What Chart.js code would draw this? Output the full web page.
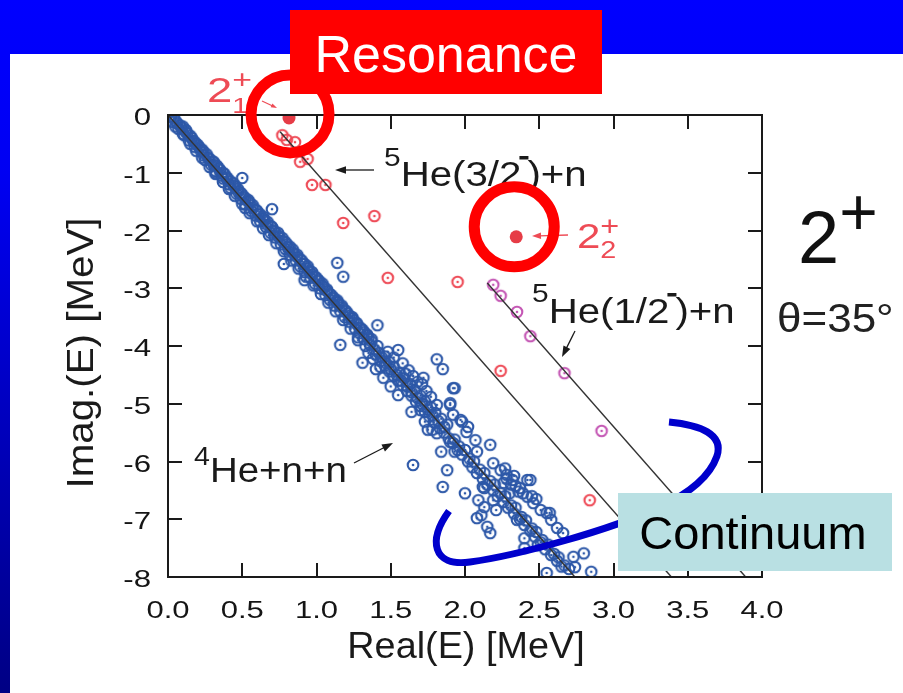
<!DOCTYPE html>
<html>
<head>
<meta charset="utf-8">
<script src="https://cdn.jsdelivr.net/npm/chart.js"></script>
<style>
  html, body { margin: 0; padding: 0; }
  body { width: 903px; height: 693px; overflow: hidden; position: relative;
         background: linear-gradient(to bottom, #0000ff 0%, #0000f2 25%, #000084 100%); }
  #paper { position: absolute; left: 10px; top: 54px; right: 0; bottom: 0; background: #fff; }
  #chart { position: absolute; left: 0; top: 0; }
</style>
</head>
<body>
<div id="paper"></div>
<canvas id="chart" width="903" height="693"></canvas>
<script>
// axis ranges and ticks
const reRange = [0, 4];
const imRange = [-8, 0];
const reStep = 0.5;
const imStep = 1;

// complex-scaled eigenvalues [Re, Im] in MeV
const blueE = [
  [0.02,-0.03],[0.03,-0.12],[0.06,-0.14],[0.07,-0.24],[0.09,-0.22],[0.11,-0.35],[0.12,-0.30],[0.14,-0.44],
  [0.17,-0.45],[0.18,-0.55],[0.19,-0.50],[0.22,-0.62],[0.24,-0.70],[0.25,-0.78],[0.27,-0.74],[0.29,-0.86],
  [0.31,-0.87],[0.32,-0.97],[0.34,-0.92],[0.36,-1.05],[0.37,-1.10],[0.39,-1.08],[0.41,-1.20],[0.42,-1.26],
  [0.44,-1.22],[0.46,-1.36],[0.47,-1.32],[0.49,-1.45],[0.51,-1.42],[0.52,-1.55],[0.54,-1.50],[0.56,-1.66],
  [0.57,-1.60],[0.59,-1.74],[0.61,-1.72],[0.62,-1.84],[0.64,-1.80],[0.66,-1.94],[0.67,-1.90],[0.69,-2.04],
  [0.71,-2.00],[0.72,-2.12],[0.74,-2.10],[0.76,-2.24],[0.77,-2.18],[0.79,-2.32],[0.81,-2.30],[0.82,-2.42],
  [0.84,-2.38],[0.86,-2.52],[0.87,-2.46],[0.89,-2.62],[0.91,-2.58],[0.92,-2.72],[0.94,-2.66],[0.96,-2.82],
  [0.97,-2.76],[0.99,-2.92],[1.01,-2.86],[1.02,-3.00],[1.04,-2.96],[1.06,-3.12],[1.07,-3.05],[1.09,-3.20],
  [1.11,-3.16],[1.12,-3.30],[1.14,-3.24],[1.16,-3.40],[1.17,-3.33],[1.19,-3.50],[1.21,-3.44],[1.22,-3.58],
  [1.24,-3.52],[1.26,-3.70],[1.27,-3.62],[1.29,-3.78],[1.31,-3.72],[1.32,-3.88],[1.34,-3.82],[1.36,-3.98],
  [1.37,-3.92],[1.39,-4.06],[1.41,-4.00],
  [0.04,-0.06],[0.05,-0.10],[0.08,-0.18],[0.10,-0.20],[0.12,-0.26],[0.13,-0.32],[0.15,-0.36],[0.16,-0.40],
  [0.18,-0.47],[0.20,-0.52],[0.21,-0.56],[0.23,-0.60],[0.24,-0.64],[0.26,-0.68],[0.28,-0.76],[0.30,-0.80],
  [0.31,-0.82],[0.33,-0.88],[0.35,-0.95],[0.37,-1.00],[0.38,-1.02],[0.40,-1.09],[0.42,-1.15],[0.44,-1.18],
  [0.45,-1.24],[0.47,-1.28],[0.49,-1.35],[0.50,-1.38],[0.52,-1.44],[0.54,-1.47],[0.55,-1.52],[0.57,-1.56],
  [0.59,-1.64],[0.60,-1.66],[0.62,-1.72],[0.64,-1.76],[0.65,-1.82],[0.67,-1.85],[0.69,-1.92],[0.70,-1.94],
  [0.72,-2.02],[0.74,-2.04],[0.75,-2.10],[0.77,-2.13],[0.79,-2.20],[0.80,-2.24],[0.82,-2.28],[0.84,-2.33],
  [0.85,-2.40],[0.87,-2.42],[0.89,-2.50],[0.90,-2.52],[0.92,-2.58],[0.94,-2.62],[0.95,-2.70],[0.97,-2.72],
  [0.99,-2.80],[1.00,-2.82],[1.02,-2.88],[1.04,-2.92],[1.05,-2.99],[1.07,-3.02],[1.09,-3.10],[1.10,-3.12],
  [1.12,-3.18],[1.14,-3.21],[1.15,-3.28],[1.17,-3.30],[1.19,-3.38],[1.20,-3.40],[1.22,-3.48],[1.24,-3.50],
  [1.25,-3.56],[1.27,-3.60],[1.29,-3.68],[1.30,-3.70],[1.32,-3.76],[1.34,-3.80],[1.35,-3.86],[1.37,-3.88],
  [0.05,-0.20],[0.10,-0.33],[0.15,-0.50],[0.19,-0.62],[0.23,-0.74],[0.28,-0.90],[0.32,-1.02],[0.37,-1.16],
  [0.41,-1.28],[0.45,-1.40],[0.50,-1.54],[0.55,-1.70],[0.60,-1.84],[0.64,-1.96],[0.68,-2.08],[0.73,-2.22],
  [0.78,-2.36],[0.83,-2.52],[0.88,-2.66],[0.93,-2.80],[0.98,-2.95],[1.03,-3.10],[1.08,-3.25],[1.13,-3.40],
  [1.18,-3.55],[1.23,-3.70],[1.28,-3.85],[1.33,-4.00],
  [0.32,-1.00],[0.50,-1.09],[0.52,-1.61],[0.70,-1.63],[0.78,-2.58],[1.14,-2.56],[1.18,-2.80],[0.92,-2.86],
  [1.16,-3.98],[1.28,-3.90],[1.41,-3.64],[1.31,-4.29],[1.43,-4.36],[1.55,-4.07],[1.81,-4.23],[1.85,-4.40],
  [1.92,-4.73],[1.90,-4.99],[1.93,-4.73],
  [1.42,-4.12],[1.44,-4.20],[1.46,-4.18],[1.47,-4.30],[1.49,-4.28],[1.50,-4.40],[1.52,-4.36],[1.54,-4.50],
  [1.56,-4.46],[1.57,-4.60],[1.59,-4.56],[1.61,-4.70],[1.63,-4.66],[1.64,-4.80],[1.66,-4.76],[1.68,-4.90],
  [1.70,-4.86],[1.71,-5.00],[1.73,-4.96],[1.75,-5.10],[1.77,-5.06],[1.78,-5.20],[1.80,-5.16],[1.82,-5.30],
  [1.84,-5.26],[1.86,-5.40],[1.88,-5.36],
  [1.40,-4.15],[1.43,-4.26],[1.46,-4.34],[1.49,-4.44],[1.52,-4.52],[1.55,-4.60],[1.58,-4.68],[1.61,-4.78],
  [1.64,-4.86],[1.67,-4.96],[1.70,-5.04],[1.73,-5.14],[1.76,-5.22],[1.79,-5.32],[1.83,-5.42],[1.86,-5.50],
  [1.89,-5.60],[1.92,-5.68],[1.95,-5.80],[1.98,-5.88],[2.02,-6.00],[2.05,-6.10],[2.08,-6.20],[2.12,-6.30],
  [2.15,-6.40],[2.19,-6.50],[2.22,-6.60],[2.26,-6.70],[2.29,-6.80],[2.33,-6.90],[2.37,-7.00],[2.40,-7.10],
  [2.44,-7.20],[2.47,-7.30],[2.51,-7.40],[2.54,-7.52],[2.58,-7.62],[2.62,-7.72],[2.65,-7.82],
  [1.58,-4.30],[1.62,-4.42],[1.65,-4.52],[1.60,-4.48],[1.68,-4.62],[1.71,-4.66],[1.74,-4.78],[1.77,-4.88],
  [1.72,-4.55],[1.52,-4.20],[1.48,-4.10],[1.38,-4.22],[1.40,-4.40],[1.45,-4.55],[1.35,-4.12],[1.50,-4.70],
  [1.55,-4.85],
  [1.65,-6.06],[1.88,-6.15],[1.85,-6.44],[2.00,-6.55],[2.09,-6.67],[2.13,-6.46],[2.19,-6.67],[2.11,-6.93],
  [2.15,-7.13],[2.17,-7.24],[2.21,-6.84],[2.35,-7.01],[2.40,-7.33],[2.40,-7.50],[2.49,-7.45],[2.55,-6.89],
  [2.58,-7.01],[2.62,-7.15],[2.66,-7.24],[2.73,-7.65],[2.80,-7.59],[2.74,-7.83],[2.85,-7.91],[2.55,-7.93],
  [2.42,-6.32],[2.17,-5.71],[2.08,-5.83],[1.93,-5.83],[1.84,-5.83],[1.90,-5.66],[1.75,-5.45],[1.81,-5.51],
  [1.73,-5.31],[1.64,-5.14],[1.70,-5.11],[1.81,-5.02],[1.90,-5.02],[1.92,-5.19],[1.98,-5.31],[2.01,-5.49],
  [2.07,-5.63],[2.19,-6.03],[2.24,-6.15],[2.28,-6.23],[2.32,-6.32],[2.37,-6.46],[2.42,-6.61],[2.46,-6.72],
  [2.51,-6.84],[2.26,-6.37],[2.30,-6.55],[2.08,-6.98],[2.13,-6.79],[1.78,-5.45],[1.97,-5.28],[2.02,-5.40],
  [2.12,-6.44],[2.44,-6.32],[2.57,-6.89],
  [2.28,-6.30],[2.31,-6.40],[2.34,-6.42],[2.36,-6.52],[2.39,-6.55],[2.33,-6.25],[2.27,-6.12],[2.45,-6.60],
  [2.48,-6.65],
  [1.93,-5.62],[1.96,-5.74],[2.00,-5.80],[2.03,-5.95],[2.06,-6.00],[2.10,-6.14],[2.13,-6.20],[2.17,-6.34],
  [2.20,-6.40],[2.24,-6.55],[2.27,-6.60],[2.31,-6.76],[2.34,-6.80],[2.38,-6.96],[2.41,-7.02],[2.45,-7.16],
  [2.48,-7.22],[2.52,-7.36],[2.56,-7.44],[2.60,-7.60],[2.63,-7.66],[2.67,-7.80],[2.70,-7.86]
];
const redE = [
  [0.77,-0.35],[0.80,-0.43],[0.855,-0.47],[0.89,-0.81],[0.94,-0.76],[0.97,-1.21],[1.06,-1.21],
  [1.18,-1.87],[1.39,-1.75],[1.48,-2.82],[1.95,-2.89],[2.24,-4.43],[2.84,-6.67]
];
const magentaE = [[2.19,-2.94],[2.24,-3.13],[2.35,-3.41],[2.44,-3.83],[2.67,-4.47],[2.92,-5.47]];
const resonanceE = [[0.815,-0.05],[2.345,-2.11]];

// rotated thresholds: 4He+n+n, 5He(3/2-)+n, 5He(1/2-)+n
const cutStartRe = [0, 0.755, 2.15];
const cutStartIm = [0, -0.29, -2.91];
const cutEndRe = [2.74, 3.39, 3.89];

const FONT = '"Liberation Sans", Arial, Helvetica, sans-serif';
const RED_TXT = '#ee4b55';

function ring(color) {
  const c = document.createElement('canvas');
  c.width = 16; c.height = 16;
  const g = c.getContext('2d');
  g.strokeStyle = color; g.lineWidth = 2.1;
  g.beginPath(); g.arc(8, 8, 5.3, 0, Math.PI * 2); g.stroke();
  g.fillStyle = color;
  g.beginPath(); g.arc(8, 8, 1.3, 0, Math.PI * 2); g.fill();
  return c;
}

function toPts(arr) { return arr.map(p => ({ x: p[0], y: p[1] })); }

function text(ctx, s, x, y, size, color, align, sx, rot) {
  ctx.save();
  ctx.translate(x, y);
  if (rot) ctx.rotate(rot);
  ctx.scale(sx || 1, 1);
  ctx.font = size + 'px ' + FONT;
  ctx.fillStyle = color;
  ctx.textAlign = align || 'left';
  ctx.textBaseline = 'alphabetic';
  ctx.fillText(s, 0, 0);
  ctx.restore();
}

// draws pieces one after another (for super/subscripts)
function run(ctx, x, y, parts, color, sx) {
  let cx = x;
  ctx.save();
  ctx.fillStyle = color;
  for (const p of parts) {
    if (p.bar) {
      ctx.fillRect(cx - 2, y - 30, 9, 3.5);
      cx += 6;
      continue;
    }
    ctx.font = p.size + 'px ' + FONT;
    const w = ctx.measureText(p.t).width * sx;
    text(ctx, p.t, cx, y + (p.dy || 0), p.size, color, 'left', sx);
    cx += p.adv !== undefined ? p.adv : w;
  }
  ctx.restore();
}

function arrow(ctx, x1, y1, x2, y2, color, head) {
  const ang = Math.atan2(y2 - y1, x2 - x1);
  ctx.save();
  ctx.strokeStyle = color; ctx.fillStyle = color; ctx.lineWidth = 1.3;
  ctx.beginPath(); ctx.moveTo(x1, y1);
  ctx.lineTo(x2 - Math.cos(ang) * head * 0.8, y2 - Math.sin(ang) * head * 0.8); ctx.stroke();
  ctx.translate(x2, y2); ctx.rotate(ang);
  ctx.beginPath(); ctx.moveTo(0, 0); ctx.lineTo(-head, -head * 0.35); ctx.lineTo(-head, head * 0.35);
  ctx.closePath(); ctx.fill();
  ctx.restore();
}

const overlay = {
  id: 'overlay',
  afterDraw(chart) {
    const ctx = chart.ctx, a = chart.chartArea;
    const xs = chart.scales.x, ys = chart.scales.y;

    // frame with inward ticks on all sides
    ctx.save();
    ctx.strokeStyle = '#1a1a1a';
    ctx.lineWidth = 2;
    ctx.strokeRect(a.left, a.top, a.right - a.left, a.bottom - a.top);
    ctx.beginPath();
    xs.ticks.forEach(t => {
      const p = Math.round(xs.getPixelForValue(t.value));
      ctx.moveTo(p, a.bottom); ctx.lineTo(p, a.bottom - 14);
      ctx.moveTo(p, a.top); ctx.lineTo(p, a.top + 14);
    });
    ys.ticks.forEach(t => {
      const p = Math.round(ys.getPixelForValue(t.value));
      ctx.moveTo(a.left, p); ctx.lineTo(a.left + 14, p);
      ctx.moveTo(a.right, p); ctx.lineTo(a.right - 14, p);
    });
    ctx.stroke();
    ctx.restore();

    // tick labels
    xs.ticks.forEach(t => {
      text(ctx, t.value.toFixed(1), xs.getPixelForValue(t.value), a.bottom + 41, 23, '#151515', 'center', 1.35);
    });
    ys.ticks.forEach(t => {
      text(ctx, String(t.value), a.left - 17, ys.getPixelForValue(t.value) + 10, 24, '#151515', 'right', 1.3);
    });

    // axis titles
    text(ctx, 'Real(E) [MeV]', (a.left + a.right) / 2 + 1, 658, 36, '#1a1a1a', 'center', 1.05);
    text(ctx, 'Imag.(E) [MeV]', 93, 353, 36, '#1a1a1a', 'center', 1.12, -Math.PI / 2);

    // channel labels
    run(ctx, 384, 186, [{ t: '5', size: 26, dy: -20 }, { t: 'He(3/2', size: 35 }, { bar: true }, { t: ')+n', size: 35 }], '#1a1a1a', 1.15);
    arrow(ctx, 374, 170, 335, 170, '#1a1a1a', 11);
    run(ctx, 532, 323, [{ t: '5', size: 26, dy: -21 }, { t: 'He(1/2', size: 35 }, { bar: true }, { t: ')+n', size: 35 }], '#1a1a1a', 1.15);
    arrow(ctx, 575, 331, 562, 357, '#1a1a1a', 11);
    run(ctx, 194, 482, [{ t: '4', size: 26, dy: -17 }, { t: 'He+n+n', size: 35 }], '#1a1a1a', 1.1);
    arrow(ctx, 354, 463, 393, 443, '#1a1a1a', 11);

    // resonance labels
    run(ctx, 207, 102, [{ t: '2', size: 35 }, { t: '+', size: 26, dy: -14, adv: 0 }, { t: '1', size: 22, dy: 11 }], RED_TXT, 1.3);
    arrow(ctx, 262, 101, 277, 108, RED_TXT, 6);
    run(ctx, 577, 248, [{ t: '2', size: 35 }, { t: '+', size: 27, dy: -13, adv: 0 }, { t: '2', size: 24, dy: 10 }], RED_TXT, 1.2);
    arrow(ctx, 568, 235, 532, 236, RED_TXT, 9);

    // J^pi and angle
    run(ctx, 798, 263, [{ t: '2', size: 74 }, { t: '+', size: 66, dy: -28 }], '#111', 1);
    text(ctx, 'θ=35°', 777, 332, 40, '#222', 'left', 1.1);

    // hand-drawn continuum loop
    ctx.save();
    ctx.strokeStyle = '#0000cc';
    ctx.lineWidth = 7;
    ctx.beginPath();
    ctx.moveTo(669, 422);
    ctx.bezierCurveTo(700, 425, 724, 434, 717, 456);
    ctx.bezierCurveTo(710, 476, 692, 492, 660, 507);
    ctx.bezierCurveTo(610, 530, 520, 555, 470, 562);
    ctx.bezierCurveTo(432, 567, 428, 540, 449, 511);
    ctx.stroke();
    ctx.restore();

    // circles round the resonance poles
    ctx.save();
    ctx.strokeStyle = '#ff0000';
    ctx.lineWidth = 11;
    const r1 = resonanceE[0], r2 = resonanceE[1];
    ctx.beginPath();
    ctx.arc(xs.getPixelForValue(r1[0]) + 1, ys.getPixelForValue(r1[1]) - 4, 39, 0, Math.PI * 2);
    ctx.stroke();
    ctx.beginPath();
    ctx.arc(xs.getPixelForValue(r2[0]) - 2, ys.getPixelForValue(r2[1]) - 10, 40, 0, Math.PI * 2);
    ctx.stroke();
    ctx.restore();

    // callout boxes
    ctx.save();
    ctx.fillStyle = '#ff0000';
    ctx.fillRect(290, 10, 312, 84);
    text(ctx, 'Resonance', 446, 72, 52, '#ffffff', 'center', 1);
    ctx.fillStyle = '#b9e0e3';
    ctx.fillRect(618, 493, 274, 78);
    text(ctx, 'Continuum', 753, 549, 47, '#000000', 'center', 1);
    ctx.restore();
  }
};

const cutSets = cutStartRe.map((re, i) => ({
  type: 'line',
  data: [{ x: re, y: cutStartIm[i] }, { x: cutEndRe[i], y: imRange[0] }],
  borderColor: '#333333',
  borderWidth: 1.4,
  pointRadius: 0,
  showLine: true,
  fill: false
}));

new Chart(document.getElementById('chart'), {
  type: 'scatter',
  data: {
    datasets: [
      { data: toPts(resonanceE), pointStyle: 'circle', pointRadius: 6.5, pointBorderWidth: 0,
        backgroundColor: '#e63c46', borderColor: '#e63c46' },
      ...cutSets,
      { data: toPts(redE), pointStyle: ring('#ee4a56') },
      { data: toPts(magentaE), pointStyle: ring('#c456b4') },
      { data: toPts(blueE), pointStyle: ring('#2d58a8') }
    ]
  },
  options: {
    responsive: false,
    animation: false,
    layout: { padding: { left: 168, top: 115, right: 141, bottom: 116 } },
    plugins: { legend: { display: false }, tooltip: { enabled: false } },
    scales: {
      x: {
        type: 'linear', min: reRange[0], max: reRange[1],
        ticks: { stepSize: reStep, display: false },
        grid: { display: false, drawTicks: false },
        border: { display: false }
      },
      y: {
        type: 'linear', min: imRange[0], max: imRange[1],
        ticks: { stepSize: imStep, display: false },
        grid: { display: false, drawTicks: false },
        border: { display: false }
      }
    }
  },
  plugins: [overlay]
});
</script>
</body>
</html>
